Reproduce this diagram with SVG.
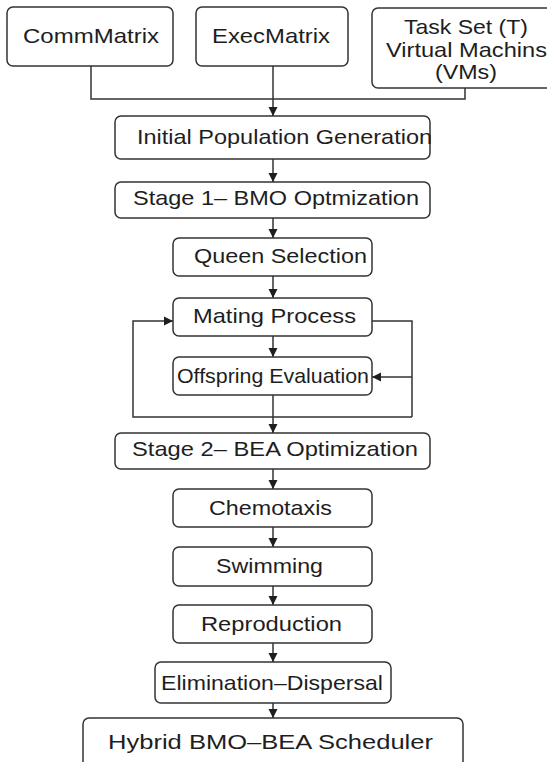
<svg xmlns="http://www.w3.org/2000/svg" width="547" height="762" viewBox="0 0 547 762">
<style>
.box{fill:#fff;stroke:#333;stroke-width:1.5}
.t{font-family:"Liberation Sans",Arial,sans-serif;font-size:21px;fill:#1e1e1e}
.c{fill:none;stroke:#333;stroke-width:1.5}
</style>
<defs>
<marker id="ah" markerWidth="12" markerHeight="12" refX="10" refY="5.5" orient="auto" markerUnits="userSpaceOnUse">
<path d="M1,1 L10,5.5 L1,10 Z" fill="#1e1e1e"/>
</marker>
</defs>
<rect width="547" height="762" fill="#fff"/>
<g id="connectors">
<path class="c" d="M91,66 V99 H465 V88"/>
<path class="c" d="M273,66 V116" marker-end="url(#ah)"/>
<path class="c" d="M273,159 V182" marker-end="url(#ah)"/>
<path class="c" d="M273,218 V238" marker-end="url(#ah)"/>
<path class="c" d="M273,276 V298" marker-end="url(#ah)"/>
<path class="c" d="M273,336 V357" marker-end="url(#ah)"/>
<path class="c" d="M273,395 V433" marker-end="url(#ah)"/>
<path class="c" d="M412,417 H133 V321 H173" marker-end="url(#ah)"/>
<path class="c" d="M372,321 H412 V417"/>
<path class="c" d="M412,377 H372" marker-end="url(#ah)"/>
<path class="c" d="M273,469 V489" marker-end="url(#ah)"/>
<path class="c" d="M273,527 V547" marker-end="url(#ah)"/>
<path class="c" d="M273,586 V605" marker-end="url(#ah)"/>
<path class="c" d="M273,643 V662" marker-end="url(#ah)"/>
<path class="c" d="M273,703 V718" marker-end="url(#ah)"/>
</g>
<g id="commmatrix"><rect class="box" x="7" y="7" width="166" height="59" rx="6"/><text class="t" x="23" y="43" textLength="136" lengthAdjust="spacingAndGlyphs">CommMatrix</text></g>
<g id="execmatrix"><rect class="box" x="196" y="7" width="152" height="59" rx="6"/><text class="t" x="212" y="43" textLength="118" lengthAdjust="spacingAndGlyphs">ExecMatrix</text></g>
<g id="taskset"><rect class="box" x="372" y="8" width="200" height="80" rx="6"/>
<text class="t" x="404" y="34" textLength="124" lengthAdjust="spacingAndGlyphs">Task Set (T)</text>
<text class="t" x="386" y="57" textLength="161" lengthAdjust="spacingAndGlyphs">Virtual Machins</text>
<text class="t" x="435" y="79" textLength="62" lengthAdjust="spacingAndGlyphs">(VMs)</text></g>
<g id="initpop"><rect class="box" x="115" y="116" width="315" height="43" rx="6"/><text class="t" x="137" y="144" textLength="295" lengthAdjust="spacingAndGlyphs">Initial Population Generation</text></g>
<g id="stage1"><rect class="box" x="115" y="182" width="315" height="36" rx="6"/><text class="t" x="133" y="205" textLength="286" lengthAdjust="spacingAndGlyphs">Stage 1– BMO Optmization</text></g>
<g id="queen"><rect class="box" x="173" y="238" width="199" height="38" rx="6"/><text class="t" x="194" y="263" textLength="173" lengthAdjust="spacingAndGlyphs">Queen Selection</text></g>
<g id="mating"><rect class="box" x="173" y="298" width="199" height="38" rx="6"/><text class="t" x="193" y="323" textLength="163" lengthAdjust="spacingAndGlyphs">Mating Process</text></g>
<g id="offspring"><rect class="box" x="173" y="357" width="199" height="38" rx="6"/><text class="t" x="177" y="383" font-size="19" textLength="192" lengthAdjust="spacingAndGlyphs">Offspring Evaluation</text></g>
<g id="stage2"><rect class="box" x="115" y="433" width="315" height="36" rx="6"/><text class="t" x="132" y="456" textLength="286" lengthAdjust="spacingAndGlyphs">Stage 2– BEA Optimization</text></g>
<g id="chemotaxis"><rect class="box" x="173" y="489" width="199" height="38" rx="6"/><text class="t" x="209" y="515" textLength="123" lengthAdjust="spacingAndGlyphs">Chemotaxis</text></g>
<g id="swimming"><rect class="box" x="173" y="547" width="199" height="39" rx="6"/><text class="t" x="216" y="573" textLength="107" lengthAdjust="spacingAndGlyphs">Swimming</text></g>
<g id="reproduction"><rect class="box" x="173" y="605" width="199" height="38" rx="6"/><text class="t" x="201" y="631" textLength="141" lengthAdjust="spacingAndGlyphs">Reproduction</text></g>
<g id="elimination"><rect class="box" x="155" y="662" width="236" height="41" rx="6"/><text class="t" x="161" y="690" font-size="19" textLength="222" lengthAdjust="spacingAndGlyphs">Elimination–Dispersal</text></g>
<g id="hybrid"><rect class="box" x="83" y="718" width="380" height="60" rx="6"/><text class="t" x="108" y="749" font-size="24" textLength="325" lengthAdjust="spacingAndGlyphs">Hybrid BMO–BEA Scheduler</text></g>
</svg>
